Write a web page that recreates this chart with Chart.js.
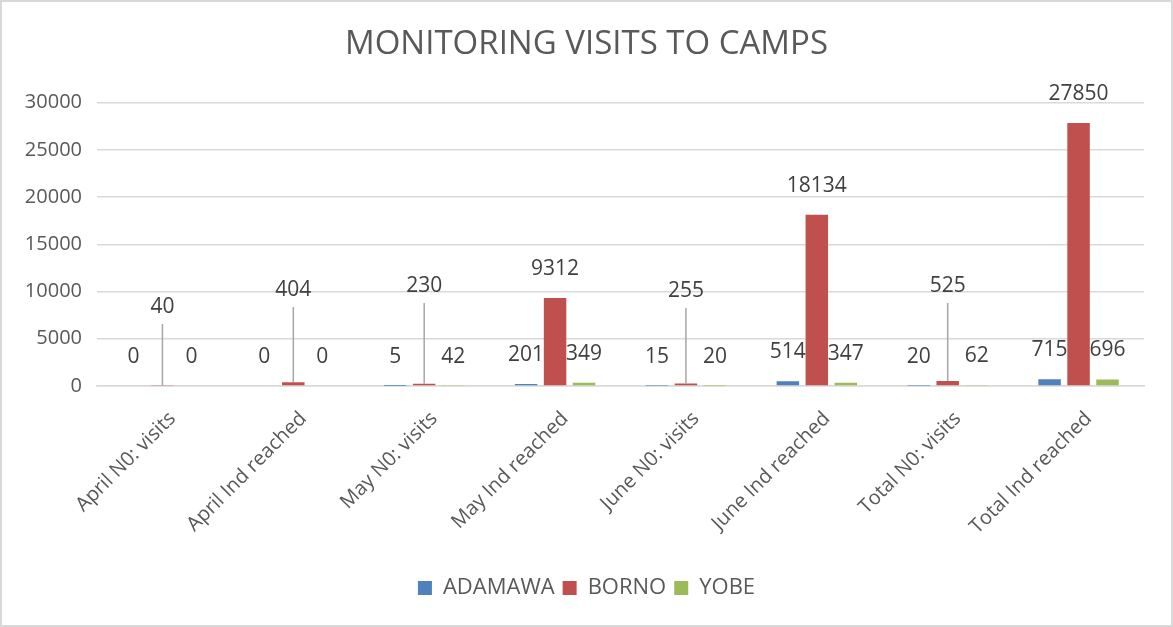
<!DOCTYPE html>
<html>
<head>
<meta charset="utf-8">
<script src="https://cdn.jsdelivr.net/npm/chart.js@4/dist/chart.umd.min.js"></script>
<style>
  html, body { margin: 0; padding: 0; background: #fff; }
  #wrap { position: relative; width: 1173px; height: 627px; box-sizing: border-box; border: 2px solid #d9d9d9; }
  canvas { display: block; }
</style>
</head>
<body>
<div id="wrap"><canvas id="c" width="1169" height="623"></canvas></div>
<script>
const categories = [
  "April N0: visits", "April Ind reached", "May N0: visits", "May Ind reached",
  "June N0: visits", "June Ind reached", "Total N0: visits", "Total Ind reached"
];
const adamawa = [0, 0, 5, 201, 15, 514, 20, 715];
const borno   = [40, 404, 230, 9312, 255, 18134, 525, 27850];
const yobe    = [0, 0, 42, 349, 20, 347, 62, 696];
const yTicks  = [0, 5000, 10000, 15000, 20000, 25000, 30000];

// label placement for Borno callouts (pixels above the zero line), null = directly above bar
const bornoLabelLift = [79, 96, 100, null, 95, null, 100, null];

const FONT = "'Open Sans', 'Liberation Sans', sans-serif";
const TEXT = '#595959';

const labelPlugin = {
  id: 'valueLabels',
  afterDatasetsDraw(chart) {
    const ctx = chart.ctx;
    const yScale = chart.scales.y;
    const zeroY = yScale.getPixelForValue(0);
    ctx.save();
    ctx.font = "21px " + FONT;
    ctx.fillStyle = '#404040';
    ctx.textAlign = 'center';
    ctx.textBaseline = 'middle';
    chart.data.datasets.forEach((ds, di) => {
      const meta = chart.getDatasetMeta(di);
      meta.data.forEach((bar, i) => {
        const v = ds.data[i];
        let cy;
        if (di === 1 && bornoLabelLift[i] !== null) {
          cy = zeroY - bornoLabelLift[i];
          ctx.save();
          ctx.strokeStyle = '#a6a6a6';
          ctx.lineWidth = 1.5;
          ctx.beginPath();
          ctx.moveTo(bar.x, cy + 17);
          ctx.lineTo(bar.x, bar.y);
          ctx.stroke();
          ctx.restore();
        } else {
          cy = bar.y - 29;
        }
        ctx.fillText(String(v), bar.x, cy);
      });
    });
    ctx.restore();
  }
};

new Chart(document.getElementById('c'), {
  type: 'bar',
  data: {
    labels: categories,
    datasets: [
      { label: 'ADAMAWA', data: adamawa, backgroundColor: '#4F81BD', yAxisID: 'y' },
      { label: 'BORNO', data: borno, backgroundColor: '#C0504D', yAxisID: 'y' },
      { label: 'YOBE', data: yobe, backgroundColor: '#9BBB59', yAxisID: 'y' }
    ]
  },
  options: {
    responsive: false,
    animation: false,
    devicePixelRatio: 1,
    categoryPercentage: 0.664,
    barPercentage: 0.776,
    layout: { padding: { left: 0, right: 0, top: 0, bottom: 16 } },
    plugins: {
      title: {
        display: true,
        text: 'MONITORING VISITS TO CAMPS',
        color: TEXT,
        font: { family: FONT, size: 33, weight: 'normal' },
        padding: { top: 23, bottom: 38 }
      },
      legend: {
        display: true,
        position: 'bottom',
        labels: {
          color: TEXT,
          font: { family: FONT, size: 22 },
          boxWidth: 14,
          boxHeight: 14,
          padding: 8
        }
      },
      tooltip: { enabled: false }
    },
    scales: {
      x: {
        grid: { display: false, drawTicks: false },
        border: { display: true, color: '#d9d9d9', width: 1.5 },
        ticks: {
          color: TEXT,
          font: { family: FONT, size: 20 },
          maxRotation: 45,
          minRotation: 45,
          padding: 21,
          labelOffset: 10
        },
        afterFit(axis) { axis.height = 183; }
      },
      y: {
        position: 'left',
        min: 0,
        max: 30000,
        afterBuildTicks(axis) { axis.ticks = yTicks.map(v => ({ value: v })); },
        grid: { color: '#d9d9d9', lineWidth: 1.5, drawTicks: false },
        border: { display: false },
        ticks: {
          color: TEXT,
          font: { family: FONT, size: 20 },
          padding: 15,
          callback: (v) => String(v)
        },
        afterFit(axis) { axis.width = 95; }
      },
      yRightSpace: {
        position: 'right',
        min: 0,
        max: 30000,
        grid: { display: false, drawTicks: false },
        border: { display: false },
        ticks: { display: false },
        afterFit(axis) { axis.width = 27; }
      }
    }
  },
  plugins: [labelPlugin]
});
</script>
</body>
</html>
